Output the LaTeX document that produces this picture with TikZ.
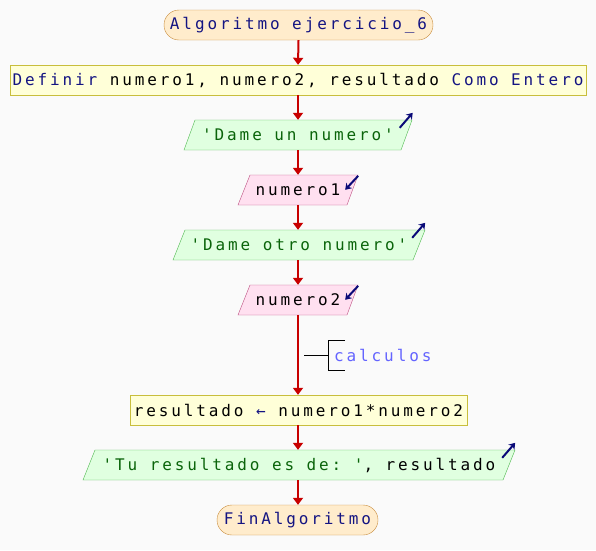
\documentclass[tikz,border=0pt]{standalone}
\usepackage{fontspec}
\setmonofont[LetterSpace=18]{DejaVu Sans Mono}
\usetikzlibrary{arrows.meta,calc}
\definecolor{bgc}{RGB}{250,250,250}
\definecolor{tfill}{RGB}{255,236,204}
\definecolor{tdraw}{RGB}{200,140,60}
\definecolor{kw}{RGB}{20,20,130}
\definecolor{pfill}{RGB}{255,255,216}
\definecolor{pdraw}{RGB}{200,190,60}
\definecolor{ofill}{RGB}{224,255,224}
\definecolor{odraw}{RGB}{80,185,80}
\definecolor{otext}{RGB}{10,100,10}
\definecolor{ifill}{RGB}{255,224,240}
\definecolor{idraw}{RGB}{190,80,130}
\definecolor{flow}{RGB}{200,0,0}
\definecolor{icon}{RGB}{10,10,120}
\definecolor{ctext}{RGB}{100,100,255}
\tikzset{
  every node/.style={font=\ttfamily\fontsize{16}{19}\selectfont, inner sep=0pt},
  termbox/.style={draw=tdraw, fill=tfill, rounded corners=15pt, minimum height=30pt, text=kw},
  procbox/.style={draw=pdraw, fill=pfill, minimum height=30pt},
  iotext/.style={minimum height=30pt},
  flowline/.style={draw=flow, line width=2pt, -{Triangle[width=10pt,length=7pt]}},
  iconline/.style={draw=icon, line width=2pt, -{Stealth[width=8pt,length=6pt]}},
  outshape/.style={draw=odraw, fill=ofill},
  inshape/.style={draw=idraw, fill=ifill},
}
\begin{document}
\begin{tikzpicture}[x=1pt,y=-1pt]
\fill[bgc] (0,0) rectangle (596,550);
\useasboundingbox (0,0) rectangle (596,550);

\node[termbox, minimum width=269pt] (start) at (298.5,25) {Algoritmo ejercicio\_6};
\node[procbox, minimum width=576pt] (def) at (298,80) {\textcolor{kw}{Definir} numero1, numero2, resultado \textcolor{kw}{Como Entero}};

% output 1
\path[outshape] (195,120) -- (412,120) -- (401,150) -- (184,150) -- cycle;
\node[iotext, minimum width=217pt, text=otext] (o1) at (298,135) {'Dame un numero'};
\draw[iconline] ($(o1.north east)+(-7,8)$) -- ($(o1.north east)+(6,-7)$);

% input 1
\path[inshape] (250,175) -- (358,175) -- (347,205) -- (238,205) -- cycle;
\node[iotext, minimum width=108pt] (i1) at (298,190) {numero1};
\draw[iconline] ($(i1.north east)+(6,1)$) -- ($(i1.north east)+(-7,15)$);

% output 2
\path[outshape] (185,230) -- (425,230) -- (413,260) -- (173,260) -- cycle;
\node[iotext, minimum width=240pt, text=otext] (o2) at (299,245) {'Dame otro numero'};
\draw[iconline] ($(o2.north east)+(-7,8)$) -- ($(o2.north east)+(6,-7)$);

% input 2
\path[inshape] (250,285) -- (358,285) -- (347,315) -- (238,315) -- cycle;
\node[iotext, minimum width=108pt] (i2) at (298,300) {numero2};
\draw[iconline] ($(i2.north east)+(6,1)$) -- ($(i2.north east)+(-7,15)$);

% comment
\coordinate (cm) at (304,355);
\coordinate (cb) at (328,355);
\draw[black, line width=1pt] (cm) -- (cb);
\draw[black, line width=1pt] (345,340) -- (328,340) -- (328,370) -- (345,370);
\node[anchor=west, text=ctext] (com) at (334,355) {calculos};

\node[procbox, minimum width=337pt] (res) at (298.5,410) {resultado \textcolor{kw}{←} numero1*numero2};

% output 3
\path[outshape] (95,450) -- (515,450) -- (503,480) -- (83,480) -- cycle;
\node[iotext, minimum width=420pt] (o3) at (299,465) {\textcolor{otext}{'Tu resultado es de: '}, resultado};
\draw[iconline] ($(o3.north east)+(-7,8)$) -- ($(o3.north east)+(6,-7)$);

\node[termbox, minimum width=161pt] (end) at (297.5,520) {FinAlgoritmo};

\draw[flowline] (start.south) -- (def.north);
\draw[flowline] (def.south) -- (o1.north);
\draw[flowline] (o1.south) -- (i1.north);
\draw[flowline] (i1.south) -- (o2.north -| i1.south);
\draw[flowline] (o2.south -| i1.south) -- (i2.north);
\draw[flowline] (i2.south) -- (res.north -| i2.south);
\draw[flowline] (res.south -| i2.south) -- (o3.north -| i2.south);
\draw[flowline] (o3.south -| i2.south) -- (end.north -| i2.south);
\end{tikzpicture}
\end{document}
